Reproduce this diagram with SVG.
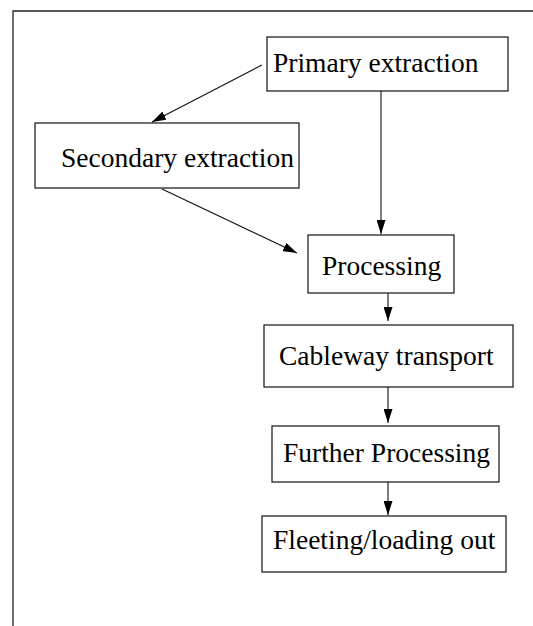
<svg xmlns="http://www.w3.org/2000/svg" width="533" height="626" viewBox="0 0 533 626">
<style>
.box{fill:#fff;stroke:#111;stroke-width:1.2}
.lbl{font-family:"Liberation Serif","Times New Roman",serif;font-size:27.5px;fill:#000}
.edge{stroke:#111;stroke-width:1.1;fill:none;marker-end:url(#ah)}
.frame{stroke:#222;stroke-width:1.3;fill:none}
</style>
<defs>
<marker id="ah" viewBox="0 0 14 9" refX="14" refY="4.5" markerWidth="14" markerHeight="9" markerUnits="userSpaceOnUse" orient="auto">
<path d="M0,0 L14,4.5 L0,9 Z" fill="#000"/>
</marker>
</defs>
<path class="frame" d="M13,626 L13,11 L533,11"/>
<g id="connectors">
<line class="edge" x1="262" y1="65" x2="152" y2="122"/>
<line class="edge" x1="381" y1="91" x2="381" y2="234"/>
<line class="edge" x1="162" y1="189" x2="297" y2="253"/>
<line class="edge" x1="388" y1="293" x2="388" y2="321"/>
<line class="edge" x1="388" y1="387" x2="388" y2="423"/>
<line class="edge" x1="388" y1="482" x2="388" y2="515"/>
</g>
<g id="primary">
<rect class="box" x="267" y="37" width="241" height="54"/>
<text class="lbl" x="273" y="72">Primary extraction</text>
</g>
<g id="secondary">
<rect class="box" x="35" y="123" width="264" height="65"/>
<text class="lbl" x="61" y="167">Secondary extraction</text>
</g>
<g id="processing">
<rect class="box" x="308" y="235" width="146" height="58"/>
<text class="lbl" x="322" y="275">Processing</text>
</g>
<g id="cableway">
<rect class="box" x="264" y="325" width="249" height="62"/>
<text class="lbl" x="279" y="365">Cableway transport</text>
</g>
<g id="further">
<rect class="box" x="272" y="426" width="227" height="56"/>
<text class="lbl" x="283" y="462">Further Processing</text>
</g>
<g id="fleeting">
<rect class="box" x="262" y="516" width="244" height="56"/>
<text class="lbl" x="273" y="549">Fleeting/loading out</text>
</g>
</svg>
